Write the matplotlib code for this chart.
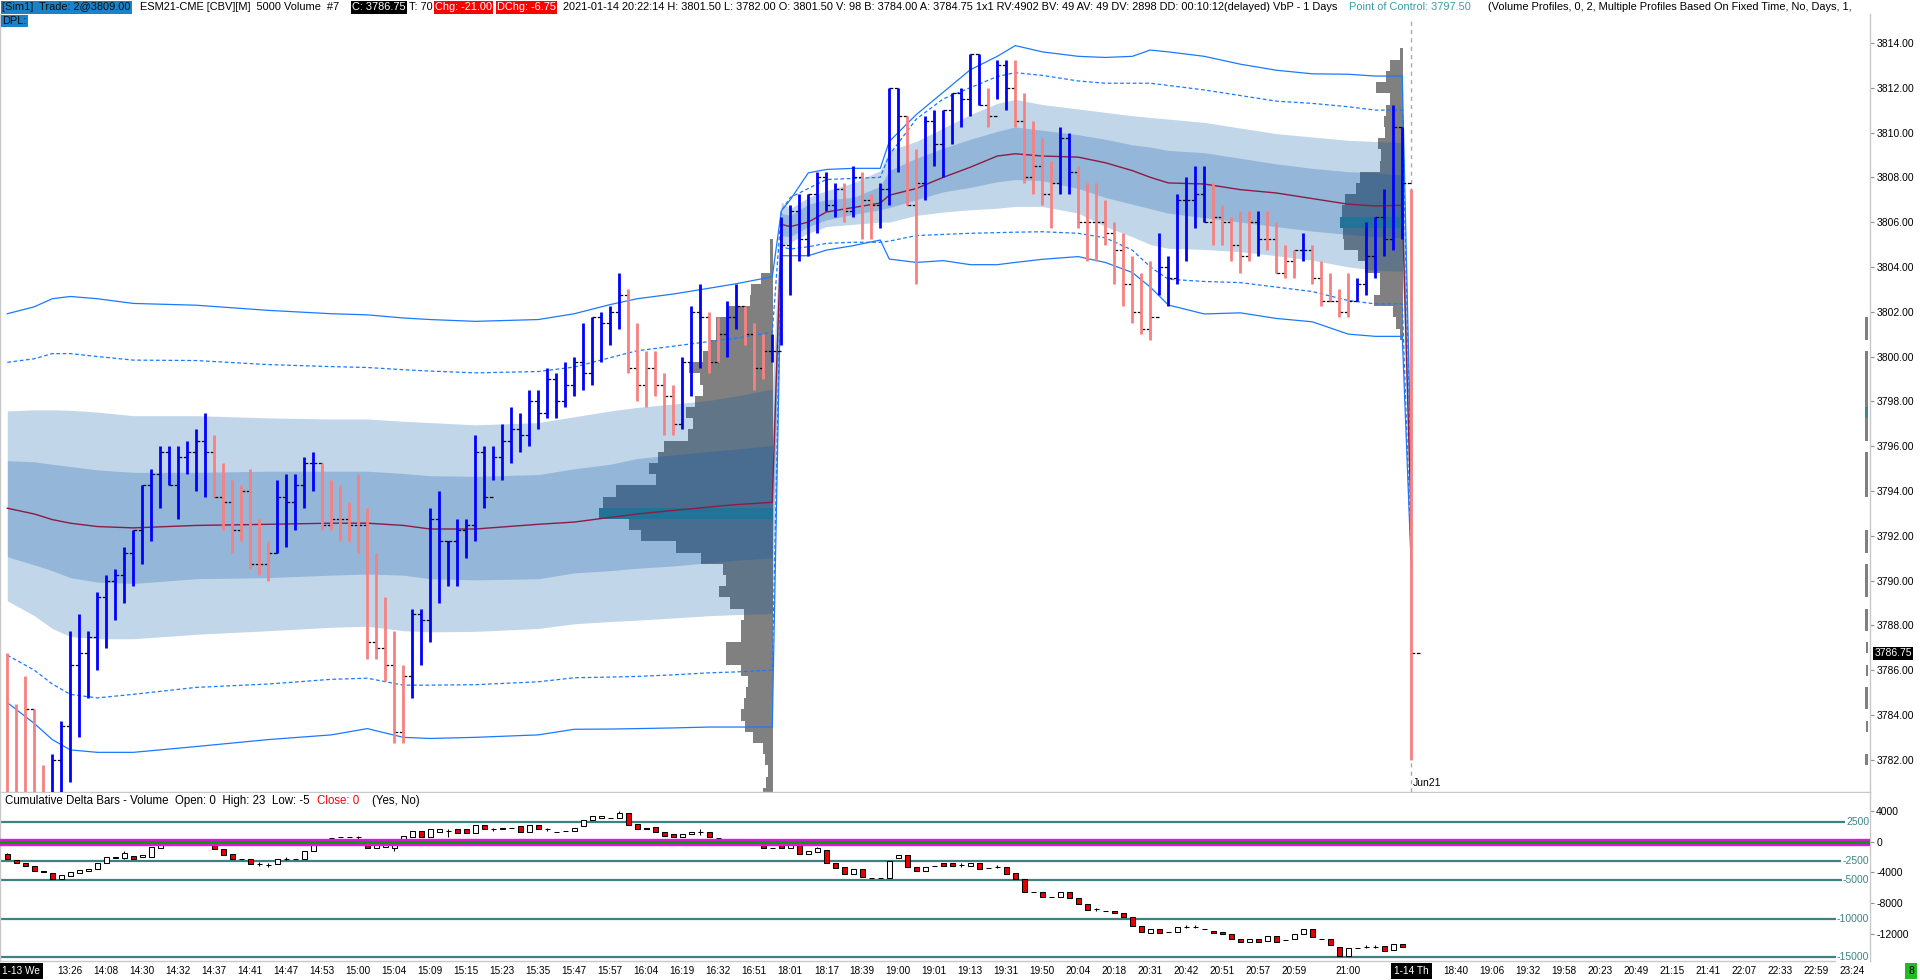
import numpy as np
import matplotlib
matplotlib.use("Agg")
import matplotlib.pyplot as plt
from matplotlib.transforms import blended_transform_factory

plt.rcParams["font.family"] = ["Liberation Sans", "DejaVu Sans"]

# -----------------------------
# 5000 volume bars (ESM21)
# -----------------------------
bar_high = [
    3786.75, 3784.5, 3785.75, 3784.25, 3781.75, 3782.25, 3783.75, 3787.75, 3788.5, 3787.75,
    3789.5, 3790.25, 3790.5, 3791.5, 3792.25, 3794.25, 3795.0, 3796.0, 3796.0, 3796.0,
    3796.25, 3796.75, 3797.5, 3796.5, 3795.25, 3794.5, 3794.25, 3795.0, 3792.75, 3791.75,
    3794.5, 3794.75, 3794.75, 3795.5, 3795.75, 3795.25, 3794.5, 3794.25, 3793.5, 3794.75,
    3793.25, 3791.25, 3789.25, 3787.75, 3786.25, 3788.75, 3788.75, 3793.25, 3794.0, 3791.75,
    3792.75, 3792.75, 3796.5, 3796.0, 3796.0, 3797.0, 3797.75, 3797.5, 3798.5, 3798.5,
    3799.5, 3799.25, 3799.75, 3800.0, 3801.5, 3801.75, 3802.0, 3802.25, 3803.75, 3803.0,
    3801.5, 3800.25, 3800.25, 3799.25, 3798.75, 3800.0, 3802.25, 3803.25, 3802.0, 3801.75,
    3802.5, 3803.25, 3802.25, 3801.5, 3801.0, 3801.0, 3806.25, 3806.75, 3807.25, 3807.25,
    3808.25, 3808.25, 3807.75, 3807.75, 3808.5, 3808.25, 3807.25, 3807.75, 3812.0, 3812.0,
    3810.75, 3809.25, 3810.75, 3811.0, 3811.0, 3811.75, 3812.0, 3813.5, 3813.5, 3812.0,
    3813.25, 3813.25, 3813.25, 3811.75, 3810.5, 3809.75, 3808.75, 3810.25, 3810.0, 3808.5,
    3807.75, 3807.75, 3807.0, 3806.0, 3805.5, 3804.5, 3803.75, 3804.25, 3805.5, 3804.5,
    3807.25, 3808.0, 3808.5, 3808.5, 3807.75, 3806.75, 3806.25, 3806.5, 3806.5, 3806.5,
    3806.5, 3806.0, 3805.0, 3804.75, 3805.5, 3805.0, 3804.25, 3803.75, 3803.0, 3803.75,
    3803.5, 3806.0, 3806.25, 3807.5, 3811.25, 3810.25, 3807.5,
]
bar_low = [
    3779.25, 3779.0, 3779.5, 3779.25, 3779.25, 3779.25, 3779.5, 3781.0, 3783.0, 3784.75,
    3786.0, 3787.0, 3788.25, 3789.0, 3789.75, 3790.75, 3791.75, 3793.25, 3794.25, 3792.75,
    3794.75, 3794.0, 3793.75, 3793.75, 3792.25, 3791.25, 3791.75, 3790.5, 3790.25, 3790.0,
    3791.25, 3791.5, 3792.25, 3793.25, 3794.0, 3792.25, 3792.25, 3791.75, 3791.75, 3791.25,
    3786.5, 3786.5, 3785.5, 3782.75, 3782.75, 3784.75, 3786.25, 3787.25, 3789.0, 3789.75,
    3789.75, 3791.0, 3791.75, 3793.25, 3794.5, 3794.5, 3795.25, 3795.75, 3796.0, 3796.75,
    3797.25, 3797.25, 3797.75, 3798.25, 3798.5, 3798.75, 3799.75, 3800.5, 3801.25, 3799.25,
    3798.0, 3797.75, 3798.25, 3796.5, 3796.5, 3796.75, 3798.25, 3799.5, 3799.25, 3799.75,
    3800.0, 3801.25, 3800.5, 3798.5, 3799.0, 3799.75, 3800.5, 3802.75, 3804.25, 3804.5,
    3805.5, 3806.5, 3806.25, 3806.0, 3806.25, 3805.25, 3805.25, 3805.75, 3806.75, 3808.25,
    3806.75, 3803.25, 3807.0, 3808.5, 3808.0, 3809.5, 3810.25, 3810.75, 3811.25, 3810.25,
    3811.5, 3811.0, 3810.25, 3807.75, 3807.25, 3806.75, 3805.75, 3807.25, 3807.25, 3805.75,
    3804.25, 3804.25, 3805.0, 3803.25, 3802.25, 3801.5, 3801.0, 3800.75, 3802.75, 3802.25,
    3803.25, 3804.25, 3805.75, 3806.0, 3805.0, 3805.0, 3804.25, 3803.75, 3804.25, 3804.5,
    3804.75, 3803.75, 3803.5, 3803.5, 3804.25, 3803.25, 3802.25, 3802.5, 3801.75, 3801.75,
    3802.5, 3802.75, 3803.5, 3804.5, 3804.75, 3805.25, 3782.0,
]
bar_close = [
    3780.5, 3779.75, 3784.25, 3780.25, 3780.0, 3782.0, 3783.5, 3786.25, 3786.75, 3787.5,
    3789.25, 3790.0, 3790.25, 3791.25, 3792.25, 3794.25, 3794.75, 3795.75, 3794.25, 3795.5,
    3795.75, 3796.25, 3795.75, 3793.75, 3793.5, 3792.25, 3794.0, 3790.75, 3790.75, 3791.25,
    3793.75, 3793.5, 3794.25, 3795.25, 3795.25, 3792.5, 3792.75, 3792.75, 3792.5, 3792.5,
    3787.25, 3787.0, 3786.25, 3783.25, 3785.75, 3788.5, 3788.25, 3792.75, 3791.75, 3791.75,
    3792.25, 3792.5, 3795.75, 3793.75, 3795.5, 3796.25, 3796.75, 3796.5, 3798.0, 3797.5,
    3799.0, 3798.0, 3798.75, 3799.75, 3799.25, 3801.75, 3801.5, 3802.0, 3802.75, 3799.5,
    3798.75, 3799.5, 3798.75, 3798.25, 3797.0, 3799.75, 3802.0, 3801.75, 3799.75, 3801.0,
    3801.75, 3802.25, 3801.0, 3799.5, 3800.25, 3800.25, 3805.0, 3806.5, 3805.25, 3807.25,
    3808.0, 3806.75, 3807.5, 3806.5, 3808.0, 3807.0, 3806.75, 3807.5, 3812.0, 3810.75,
    3806.75, 3807.75, 3810.5, 3809.5, 3811.0, 3811.75, 3811.5, 3813.5, 3811.25, 3810.75,
    3813.0, 3812.0, 3810.5, 3808.0, 3808.5, 3807.25, 3807.75, 3809.75, 3808.25, 3806.0,
    3806.0, 3806.0, 3805.5, 3804.75, 3803.25, 3802.0, 3801.25, 3801.75, 3804.0, 3803.5,
    3807.0, 3807.0, 3807.25, 3806.0, 3806.25, 3806.0, 3805.0, 3804.5, 3806.0, 3805.25,
    3805.25, 3803.75, 3804.25, 3804.75, 3804.75, 3803.5, 3802.5, 3802.5, 3802.0, 3802.5,
    3803.25, 3804.5, 3806.25, 3805.25, 3810.25, 3807.75, 3786.75,
]
# u = up bar (blue), d = down bar (red)
bar_dir = ("ddddduuuuu" "uuuuuuuuuu" "uuuddddddd" "uuuuuddddd" "ddddduuuuu"
           "uuuuuuuuuu" "uuuuuuuuud" "ddddduuudd" "uuddduuuuu" "uuududduuu"
           "dduuuuuuud" "uuddddduud" "dddddddduu" "uuuudddddu" "dddduddddd"
           "uuuuuud")

# -----------------------------
# VWAP + std dev bands, sampled per session
# -----------------------------
s1_idx = [0, 3, 5, 7, 10, 14, 21, 29, 36, 40, 44, 47, 52, 59, 63, 67, 70, 74, 78, 81, 85]
s1_vwap = [3793.23, 3792.97, 3792.72, 3792.56, 3792.41, 3792.35, 3792.46, 3792.51, 3792.56, 3792.56,
           3792.46, 3792.3, 3792.3, 3792.51, 3792.61, 3792.82, 3792.97, 3793.13, 3793.28, 3793.39, 3793.49]
s1_in_up = [3795.35, 3795.3, 3795.19, 3795.09, 3794.94, 3794.83, 3794.83, 3794.88, 3794.88, 3794.88,
            3794.78, 3794.68, 3794.65, 3794.73, 3794.99, 3795.19, 3795.45, 3795.61, 3795.76, 3795.87, 3796.02]
s1_in_lo = [3791.06, 3790.7, 3790.44, 3790.13, 3789.93, 3789.87, 3790.08, 3790.13, 3790.24, 3790.29,
            3790.24, 3790.08, 3790.03, 3790.08, 3790.34, 3790.44, 3790.55, 3790.65, 3790.8, 3790.91, 3791.01]
s1_out_up = [3797.57, 3797.62, 3797.62, 3797.6, 3797.52, 3797.36, 3797.36, 3797.26, 3797.21, 3797.21,
             3797.11, 3797.05, 3796.95, 3797.05, 3797.31, 3797.57, 3797.73, 3797.88, 3798.04, 3798.24, 3798.55]
s1_out_lo = [3789.1, 3788.43, 3787.86, 3787.5, 3787.4, 3787.4, 3787.6, 3787.76, 3787.91, 3787.96,
             3787.76, 3787.71, 3787.73, 3787.86, 3788.07, 3788.17, 3788.23, 3788.33, 3788.43, 3788.48, 3788.53]
s1_dash_up = [3799.74, 3799.9, 3800.13, 3800.13, 3800.0, 3799.84, 3799.82, 3799.64, 3799.55, 3799.51,
              3799.41, 3799.35, 3799.27, 3799.33, 3799.53, 3799.95, 3800.26, 3800.46, 3800.67, 3800.82, 3801.08]
s1_dash_lo = [3786.67, 3786.0, 3785.38, 3784.92, 3784.76, 3784.92, 3785.23, 3785.38, 3785.59, 3785.64,
              3785.33, 3785.33, 3785.35, 3785.48, 3785.66, 3785.69, 3785.72, 3785.79, 3785.88, 3785.92, 3786.0]
s1_line_up = [3801.91, 3802.22, 3802.58, 3802.68, 3802.58, 3802.37, 3802.29, 3802.06, 3801.91, 3801.86,
              3801.72, 3801.65, 3801.57, 3801.65, 3801.91, 3802.32, 3802.58, 3802.79, 3803.05, 3803.25, 3803.56]
s1_line_lo = [3784.55, 3783.62, 3782.9, 3782.44, 3782.33, 3782.33, 3782.59, 3782.9, 3783.11, 3783.39,
              3783.0, 3782.95, 3783.0, 3783.11, 3783.36, 3783.37, 3783.39, 3783.42, 3783.46, 3783.46, 3783.46]

s2_idx = [86, 87, 89, 91, 94, 97, 98, 101, 104, 107, 110, 112, 115, 119, 122, 125, 127, 129,
          133, 137, 141, 145, 149, 152, 155]
s2_vwap = [3805.9, 3805.8, 3806.0, 3806.45, 3806.65, 3806.85, 3807.2, 3807.5, 3808.0, 3808.45,
           3808.95, 3809.05, 3808.95, 3808.9, 3808.65, 3808.3, 3808.0, 3807.75, 3807.7, 3807.45,
           3807.3, 3807.05, 3806.8, 3806.72, 3806.75]
s2_in_up = [3806.4, 3806.3, 3806.8, 3807.0, 3807.1, 3807.6, 3808.3, 3808.85, 3809.3, 3809.7,
            3810.05, 3810.25, 3810.1, 3809.9, 3809.7, 3809.45, 3809.35, 3809.2, 3809.1, 3808.85,
            3808.6, 3808.4, 3808.25, 3808.2, 3808.1]
s2_in_lo = [3805.4, 3805.35, 3805.8, 3806.1, 3806.35, 3806.55, 3806.65, 3807.0, 3807.35, 3807.55,
            3807.8, 3807.9, 3807.85, 3807.5, 3807.1, 3806.8, 3806.6, 3806.4, 3806.2, 3806.0,
            3805.8, 3805.6, 3805.45, 3805.35, 3805.3]
s2_out_up = [3806.9, 3806.6, 3807.1, 3807.4, 3807.75, 3808.3, 3809.2, 3809.6, 3810.2, 3810.8,
             3811.3, 3811.48, 3811.25, 3811.05, 3810.9, 3810.75, 3810.67, 3810.6, 3810.45, 3810.2,
             3809.95, 3809.8, 3809.65, 3809.6, 3809.55]
s2_out_lo = [3804.9, 3805.1, 3805.5, 3805.8, 3805.9, 3806.0, 3806.0, 3806.3, 3806.45, 3806.55,
             3806.62, 3806.7, 3806.7, 3806.4, 3805.8, 3805.35, 3805.0, 3804.83, 3804.78, 3804.68,
             3804.5, 3804.3, 3804.0, 3803.85, 3803.8]
s2_dash_up = [3806.5, 3807.1, 3807.5, 3807.9, 3807.95, 3808.0, 3809.0, 3810.6, 3811.5, 3812.0,
              3812.5, 3812.67, 3812.55, 3812.3, 3812.2, 3812.2, 3812.2, 3812.1, 3811.9, 3811.65,
              3811.4, 3811.3, 3811.15, 3811.0, 3811.0]
s2_dash_lo = [3804.9, 3804.8, 3804.9, 3805.05, 3805.1, 3805.1, 3805.15, 3805.4, 3805.45, 3805.5,
              3805.53, 3805.55, 3805.57, 3805.5, 3805.3, 3804.75, 3804.0, 3803.45, 3803.35, 3803.3,
              3803.1, 3802.9, 3802.5, 3802.35, 3802.35]
s2_line_up = [3806.5, 3807.0, 3808.2, 3808.35, 3808.4, 3808.4, 3809.6, 3810.8, 3811.8, 3812.8,
              3813.4, 3813.88, 3813.6, 3813.4, 3813.35, 3813.4, 3813.68, 3813.6, 3813.4, 3813.05,
              3812.78, 3812.62, 3812.6, 3812.52, 3812.52]
s2_line_lo = [3804.5, 3804.5, 3804.5, 3804.75, 3804.95, 3805.2, 3804.35, 3804.2, 3804.28, 3804.1,
              3804.1, 3804.2, 3804.34, 3804.46, 3804.2, 3803.75, 3803.1, 3802.3, 3801.9, 3801.95,
              3801.7, 3801.55, 3801.0, 3800.9, 3800.9]

# new day, single bar
s3_idx = 156
s3_vwap, s3_in_up, s3_in_lo = 3792.4, 3793.0, 3791.8
s3_out_up, s3_out_lo = 3793.6, 3791.2
s3_dash_up, s3_dash_lo = 3794.2, 3790.9
s3_line_up, s3_line_lo = 3794.8, 3790.6

# -----------------------------
# Volume profiles (row price, relative volume)
# -----------------------------
p1_rows = [3805.0, 3804.5, 3804.0, 3803.5, 3803.0, 3802.5, 3802.0, 3801.5, 3801.0, 3800.5,
           3800.0, 3799.5, 3799.0, 3798.5, 3798.0, 3797.5, 3797.0, 3796.5, 3796.0, 3795.5,
           3795.0, 3794.5, 3794.0, 3793.5, 3793.0, 3792.5, 3792.0, 3791.5, 3791.0, 3790.5,
           3790.0, 3789.5, 3789.0, 3788.5, 3788.0, 3787.5, 3787.0, 3786.5, 3786.0, 3785.5,
           3785.0, 3784.5, 3784.0, 3783.5, 3783.0, 3782.5, 3782.0, 3781.5, 3781.0, 3780.5,
           3780.0]
p1_vol = [3, 3, 3, 12, 22, 23, 45, 57, 57, 63,
          70, 84, 73, 70, 78, 87, 80, 85, 109, 115,
          124, 117, 157, 170, 174, 144, 132, 97, 72, 50,
          47, 54, 43, 29, 32, 32, 47, 47, 32, 25,
          27, 29, 32, 28, 20, 10, 8, 5, 7, 10,
          8]
p1_poc = 3793.0

p2_rows = [3813.5, 3813.0, 3812.5, 3812.0, 3811.5, 3811.0, 3810.5, 3810.0, 3809.5, 3809.0,
           3808.5, 3808.0, 3807.5, 3807.0, 3806.5, 3806.0, 3805.5, 3805.0, 3804.5, 3804.0,
           3803.5, 3803.0, 3802.5, 3802.0, 3801.5, 3801.0]
p2_vol = [3, 13, 17, 27, 13, 17, 19, 18, 25, 22,
          23, 43, 47, 58, 61, 63, 60, 59, 45, 38,
          23, 23, 29, 10, 7, 3]
p2_poc = 3806.0

p3_rows = [3801.5, 3801.0, 3800.5, 3800.0, 3799.5, 3799.0, 3798.5, 3798.0, 3797.5, 3797.0,
           3796.5, 3796.0, 3795.5, 3795.0, 3794.5, 3794.0, 3793.5, 3793.0, 3792.5, 3792.0,
           3791.5, 3791.0, 3790.5, 3790.0, 3789.5, 3789.0, 3788.5, 3788.0, 3787.5, 3787.0,
           3786.5, 3786.0, 3785.5, 3785.0, 3784.5, 3784.0, 3783.5, 3783.0, 3782.5, 3782.0]
p3_vol = [3, 3, 0, 3, 3, 3, 3, 3, 3, 3,
          3, 0, 3, 3, 3, 3, 0, 0, 0, 3,
          3, 0, 3, 3, 3, 0, 3, 3, 0, 2,
          0, 2, 0, 3, 3, 0, 2, 0, 0, 3]
p3_poc = 3797.5

# -----------------------------
# Cumulative delta bars
# -----------------------------
delta_open = [
    -1600, -2420, -2720, -3160, -3760, -4020, -4800, -4460, -4020, -3760,
    -3590, -2810, -2120, -2160, -1900, -1940, -1940, -780, -430, -430,
    -430, -430, -300, -430, -990, -1600, -2200, -2290, -2900, -3030,
    -2900, -2200, -2200, -2200, -1250, -210, 440, 570, 570, 570,
    -430, -860, -650, -860, 310, 650, 1390, 650, 1260, 1430,
    1650, 1610, 1090, 2210, 1610, 1610, 1820, 2040, 1300, 2170,
    1610, 1300, 1430, 1430, 2040, 2820, 3120, 3030, 3030, 3680,
    2300, 1820, 1950, 1300, 960, 650, 1000, 1300, 1220, 520,
    390, 310, -130, -430, -430, -780, -430, -820, -430, -1600,
    -1300, -1080, -2810, -3330, -4240, -3590, -4760, -4710, -4670, -2070,
    -1770, -3330, -3760, -3160, -2810, -2810, -3030, -3110, -2810, -3460,
    -3240, -3240, -4020, -4890, -6490, -6530, -7230, -7230, -6490, -7360,
    -8090, -8780, -8960, -9000, -9220, -9820, -10950, -11900, -11380, -11680,
    -11730, -11040, -11040, -11340, -11550, -11770, -11990, -12640, -13070, -12680,
    -12900, -12200, -12770, -12680, -12030, -11380, -12590, -12680, -13630, -14800,
    -13850, -13630, -13630, -13500, -14060, -13290, 0,
]
delta_close = [
    -2290, -2810, -3160, -3810, -3940, -4800, -4370, -3940, -3720, -3500,
    -2810, -2030, -1940, -1420, -2290, -1680, -730, -430, -130, -430,
    -430, -430, -300, -990, -1680, -2200, -2200, -2940, -2900, -3030,
    -2200, -2200, -2200, -1170, -340, 130, 440, 570, 570, 570,
    -860, -430, -430, -210, 740, 1390, 650, 1610, 1610, 1430,
    1170, 1090, 2210, 1610, 1610, 1820, 1820, 1220, 2170, 1610,
    1610, 1300, 1430, 1820, 2820, 3290, 3380, 3030, 3770, 2170,
    1690, 1690, 1300, 740, 570, 960, 1300, 1300, 570, 520,
    390, 310, -130, -430, -780, -780, -780, -430, -1640, -1210,
    -860, -2810, -3460, -4240, -3590, -4630, -4760, -4710, -2510, -1770,
    -3330, -3760, -3240, -3160, -3160, -3160, -3030, -2810, -3550, -3460,
    -3240, -4200, -4890, -6490, -6490, -7140, -7230, -6490, -7360, -8130,
    -8870, -8780, -8960, -9220, -9820, -10950, -11680, -11380, -11810, -11680,
    -11040, -11040, -11040, -11340, -11810, -12030, -12640, -13070, -12680, -13070,
    -12200, -12980, -12770, -11990, -11380, -12330, -12590, -13420, -14800, -13850,
    -13850, -13630, -13630, -14150, -13290, -13630, 0,
]
delta_high = [
    -1420, -2420, -2720, -3160, -3760, -4020, -4280, -3940, -3720, -3500,
    -2810, -2030, -1940, -1250, -1900, -1680, -730, -430, -130, -430,
    -430, -430, -300, -430, -990, -1600, -2200, -2290, -2680, -2810,
    -2200, -1990, -2200, -1170, -340, 130, 440, 570, 570, 780,
    -430, -430, -430, -210, 740, 1390, 1390, 1610, 1610, 1610,
    1650, 1610, 2210, 2210, 1820, 1820, 1820, 2040, 2170, 2170,
    1820, 1300, 1430, 1820, 2820, 3290, 3380, 3030, 3940, 3680,
    2300, 1820, 1950, 1300, 960, 960, 1300, 1610, 1220, 520,
    390, 310, -130, -430, -430, -780, -430, -430, -430, -1210,
    -650, -1080, -2810, -3330, -3590, -3590, -4760, -4710, -2510, -1770,
    -1770, -3330, -3240, -3160, -2810, -2810, -2810, -2810, -2810, -3460,
    -3030, -3240, -4020, -4890, -6490, -6530, -7230, -6490, -6490, -7360,
    -8090, -8570, -8960, -9000, -9220, -9820, -10950, -11380, -11380, -11680,
    -11040, -10820, -10820, -11340, -11550, -11770, -11990, -12640, -12680, -12680,
    -12200, -12200, -12770, -11990, -11380, -11380, -12590, -12680, -13630, -13850,
    -13850, -13420, -13420, -13500, -13290, -13290, 23,
]
delta_low = [
    -2290, -2810, -3160, -3810, -3940, -4800, -4890, -4460, -4020, -3760,
    -3590, -2810, -2120, -2250, -2290, -1940, -1940, -780, -430, -430,
    -430, -430, -300, -990, -1680, -2200, -2200, -2940, -3110, -3240,
    -2900, -2420, -2200, -2200, -1250, -210, 440, 570, 570, 350,
    -860, -860, -650, -1210, 310, 650, 650, 650, 1260, 650,
    1170, 1090, 1090, 1610, 1390, 1610, 1820, 1220, 1300, 1610,
    1390, 1300, 1430, 1430, 2040, 2820, 3120, 3030, 3030, 2170,
    1690, 1690, 1300, 740, 570, 650, 1000, 870, 570, 520,
    390, 310, -130, -430, -780, -780, -780, -820, -1640, -1600,
    -1300, -2810, -3460, -4240, -4240, -4630, -4760, -4710, -4670, -2070,
    -3330, -3760, -3760, -3160, -3160, -3160, -3240, -3110, -3550, -3460,
    -3460, -4200, -4890, -6490, -6490, -7140, -7230, -7230, -7360, -8130,
    -8870, -9000, -8960, -9220, -9820, -10950, -11680, -11900, -11810, -11680,
    -11730, -11250, -11250, -11340, -11810, -12030, -12640, -13070, -13070, -13070,
    -12900, -12980, -12770, -12680, -12030, -12330, -12590, -13420, -14800, -14800,
    -13850, -13850, -13850, -14150, -14060, -13630, -5,
]
delta_levels = [2500, -2500, -5000, -10000, -15000]
delta_ticks = [4000, 0, -4000, -8000, -12000]

# -----------------------------
# Time axis labels (bar index, text)
# -----------------------------
time_idx = [7, 11, 15, 19, 23, 27, 31, 35, 39, 43, 47, 51, 55, 59, 63, 67, 71, 75, 79, 83,
            87, 91, 95, 99, 103, 107, 111, 115, 119, 123, 127, 131, 135, 139, 143, 149,
            161, 165, 169, 173, 177, 181, 185, 189, 193, 197, 201, 205]
time_lbl = ["13:26", "14:08", "14:30", "14:32", "14:37", "14:41", "14:47", "14:53", "15:00", "15:04",
            "15:09", "15:15", "15:23", "15:35", "15:47", "15:57", "16:04", "16:19", "16:32", "16:51",
            "18:01", "18:17", "18:39", "19:00", "19:01", "19:13", "19:31", "19:50", "20:04", "20:18",
            "20:31", "20:42", "20:51", "20:57", "20:59", "21:00",
            "18:40", "19:06", "19:32", "19:58", "20:23", "20:49", "21:15", "21:41", "22:07", "22:33",
            "22:59", "23:24"]
day_break_idx = 156
last_price = 3786.75

# -----------------------------
# Figure
# -----------------------------
W, H = 1920, 980
fig = plt.figure(figsize=(W / 100, H / 100), dpi=100, facecolor="white")
ax = fig.add_axes([0, 1 - 792 / H, 1870 / W, (792 - 14) / H])
ax2 = fig.add_axes([0, 1 - 961 / H, 1870 / W, (961 - 793) / H])
for a in (ax, ax2):
    a.set_xlim(-0.81, 206.97)
    a.set_facecolor("white")
    for s in a.spines.values():
        s.set_color("#c8c8c8")
        s.set_linewidth(1.0)
    a.spines["top"].set_visible(False)
    a.set_xticks([])
ax.set_ylim(3780.56, 3815.29)
ax2.set_ylim(-15494, 6325)

band_col = (0, 84 / 255, 167 / 255)
line_col = "#1a7aff"
vwap_col = "#8b1c44"
poc_col = "#3a8a8c"


def draw_profile(rows, vols, right, poc):
    w = np.array(vols) / 9.0
    cols = [poc_col if r == poc else "#808080" for r in rows]
    ax.barh(rows, w, height=0.5, left=right - w, color=cols, edgecolor="none", zorder=1)


draw_profile(p1_rows, p1_vol, 85.1, p1_poc)
draw_profile(p2_rows, p2_vol, 155.1, p2_poc)
draw_profile(p3_rows, p3_vol, 206.8, p3_poc)

# band fills: two translucent layers, joined across the session changes
band_x = s1_idx + s2_idx + [s3_idx]
out_lo = s1_out_lo + s2_out_lo + [s3_out_lo]
out_up = s1_out_up + s2_out_up + [s3_out_up]
in_lo = s1_in_lo + s2_in_lo + [s3_in_lo]
in_up = s1_in_up + s2_in_up + [s3_in_up]
ax.fill_between(band_x, out_lo, out_up, color=band_col, alpha=0.24, lw=0, zorder=2)
ax.fill_between(band_x, in_lo, in_up, color=band_col, alpha=0.24, lw=0, zorder=2)

ax.plot(band_x, s1_line_up + s2_line_up + [s3_line_up], color=line_col, lw=0.9, zorder=3)
ax.plot(band_x, s1_line_lo + s2_line_lo + [s3_line_lo], color=line_col, lw=0.9, zorder=3)
ax.plot(band_x, s1_dash_up + s2_dash_up + [s3_dash_up], color=line_col, lw=0.9,
        dashes=(3, 2), zorder=3)
ax.plot(band_x, s1_dash_lo + s2_dash_lo + [s3_dash_lo], color=line_col, lw=0.9,
        dashes=(3, 2), zorder=3)
ax.plot(band_x, s1_vwap + s2_vwap + [s3_vwap], color=vwap_col, lw=1.0, zorder=3)

# session separator
ax.axvline(day_break_idx, ymin=0, ymax=0.995, color="#aaaaaa", lw=1.0, dashes=(3, 3), zorder=4)
ax.annotate("Jun21", xy=(day_break_idx, 0), xycoords=("data", "axes fraction"),
            xytext=(1, 6.5), textcoords="offset points", ha="left", va="center", fontsize=7.5)

# price bars
idx = np.arange(len(bar_close))
bar_cols = ["#0000ff" if d == "u" else "#f88080" for d in bar_dir]
ax.vlines(idx, bar_low, bar_high, colors=bar_cols, lw=2.0, zorder=5)
ax.hlines(bar_close, idx, idx + 1, colors="black", lw=0.9, linestyles=[(0, (3, 1.3))], zorder=4.9)

# price axis
ax.yaxis.tick_right()
ax.set_yticks(np.arange(3782, 3815, 2))
ax.set_yticklabels([f"{v:.2f}" for v in np.arange(3782, 3815, 2)])
ax.tick_params(axis="y", length=3, width=0.8, color="#909090", labelsize=7.5, pad=1.5)
ax.annotate(f"{last_price:.2f}", xy=(1, last_price), xycoords=("axes fraction", "data"),
            xytext=(3, 0), textcoords="offset points", ha="left", va="center",
            fontsize=7.5, color="white",
            bbox=dict(boxstyle="square,pad=0.12", fc="black", ec="none"), zorder=10)

# ---- cumulative delta panel ----
trans2 = blended_transform_factory(ax2.transAxes, ax2.transData)
for lv in delta_levels:
    ax2.axhline(lv, color="#3f8080", lw=1.6, zorder=1)
    ax2.text(0.9995, lv, str(lv), transform=trans2, ha="right", va="center", fontsize=7.5,
             color="#3d8585", zorder=6,
             bbox=dict(boxstyle="square,pad=0.1", fc="white", ec="none"))

d_idx = np.arange(len(delta_close))
d_o = np.array(delta_open)
d_c = np.array(delta_close)
d_cols = np.where(d_c >= d_o, "white", "#e80000")
ax2.vlines(d_idx, delta_low, delta_high, colors="black", lw=0.75, zorder=2)
ax2.bar(d_idx, d_c - d_o, bottom=d_o, width=0.56, color=d_cols, edgecolor="black",
        linewidth=0.75, zorder=2.5)
ax2.axhline(0, color="#ff00ff", lw=5.3, zorder=4)
ax2.axhline(0, color="#00a000", lw=2.4, zorder=4.5)

ax2.yaxis.tick_right()
ax2.set_yticks(delta_ticks)
ax2.set_yticklabels([str(v) for v in delta_ticks])
ax2.tick_params(axis="y", length=3, width=0.8, color="#909090", labelsize=7.5, pad=1.5)

# time labels
for i, t in zip(time_idx, time_lbl):
    ax2.annotate(t, xy=(i, 0), xycoords=("data", "axes fraction"), xytext=(0, -7.2),
                 textcoords="offset points", ha="center", va="center", fontsize=7.2,
                 annotation_clip=False)
ax2.annotate("1-13 We", xy=(0, 0), xycoords="axes fraction", xytext=(1.5, -7.2),
             textcoords="offset points", ha="left", va="center", fontsize=7.2, color="white",
             bbox=dict(boxstyle="square,pad=0.3", fc="black", ec="none"))
ax2.annotate("1-14 Th", xy=(day_break_idx, 0), xycoords=("data", "axes fraction"), xytext=(0, -7.2),
             textcoords="offset points", ha="center", va="center", fontsize=7.2, color="white",
             bbox=dict(boxstyle="square,pad=0.3", fc="black", ec="none"), annotation_clip=False)
fig.text(1911 / W, 1 - 971 / H, "8", fontsize=7.5, ha="center", va="center",
         bbox=dict(boxstyle="square,pad=0.3", fc="#22bb22", ec="none"))


# ---- header texts ----
def put(x_px, y_px, text, fg="black", bg=None, size=7.9):
    kw = {}
    if bg is not None:
        kw["bbox"] = dict(boxstyle="square,pad=0.12", fc=bg, ec="none")
    fig.text(x_px / W, 1 - y_px / H, text, color=fg, fontsize=size, ha="left", va="center",
             zorder=20, **kw)


blue_bg = "#1a82c8"
put(2, 7.5, "[Sim1]  Trade: 2@3809.00", "#111111", blue_bg)
put(140, 7.5, "ESM21-CME [CBV][M]  5000 Volume  #7")
put(352, 7.5, "C: 3786.75", "white", "black")
put(409, 7.5, "T: 70")
put(435, 7.5, "Chg: -21.00", "white", "#ff0000")
put(497, 7.5, "DChg: -6.75", "white", "#ff0000")
put(563, 7.5, "2021-01-14 20:22:14 H: 3801.50 L: 3782.00 O: 3801.50 V: 98 B: 3784.00 "
              "A: 3784.75 1x1 RV:4902 BV: 49 AV: 49 DV: 2898 DD: 00:10:12(delayed) VbP - 1 Days")
put(1349, 7.5, "Point of Control: 3797.50", "#3f9aa6")
put(1488, 7.5, "(Volume Profiles, 0, 2, Multiple Profiles Based On Fixed Time, No, Days, 1,")
put(2, 21, "DPL:", "#111111", blue_bg)

put(5, 801, "Cumulative Delta Bars - Volume  Open: 0  High: 23  Low: -5", size=8.3)
put(317, 801, "Close: 0", "#ff0000", size=8.3)
put(372, 801, "(Yes, No)", size=8.3)

fig.savefig("out.png", dpi=100, facecolor="white")
